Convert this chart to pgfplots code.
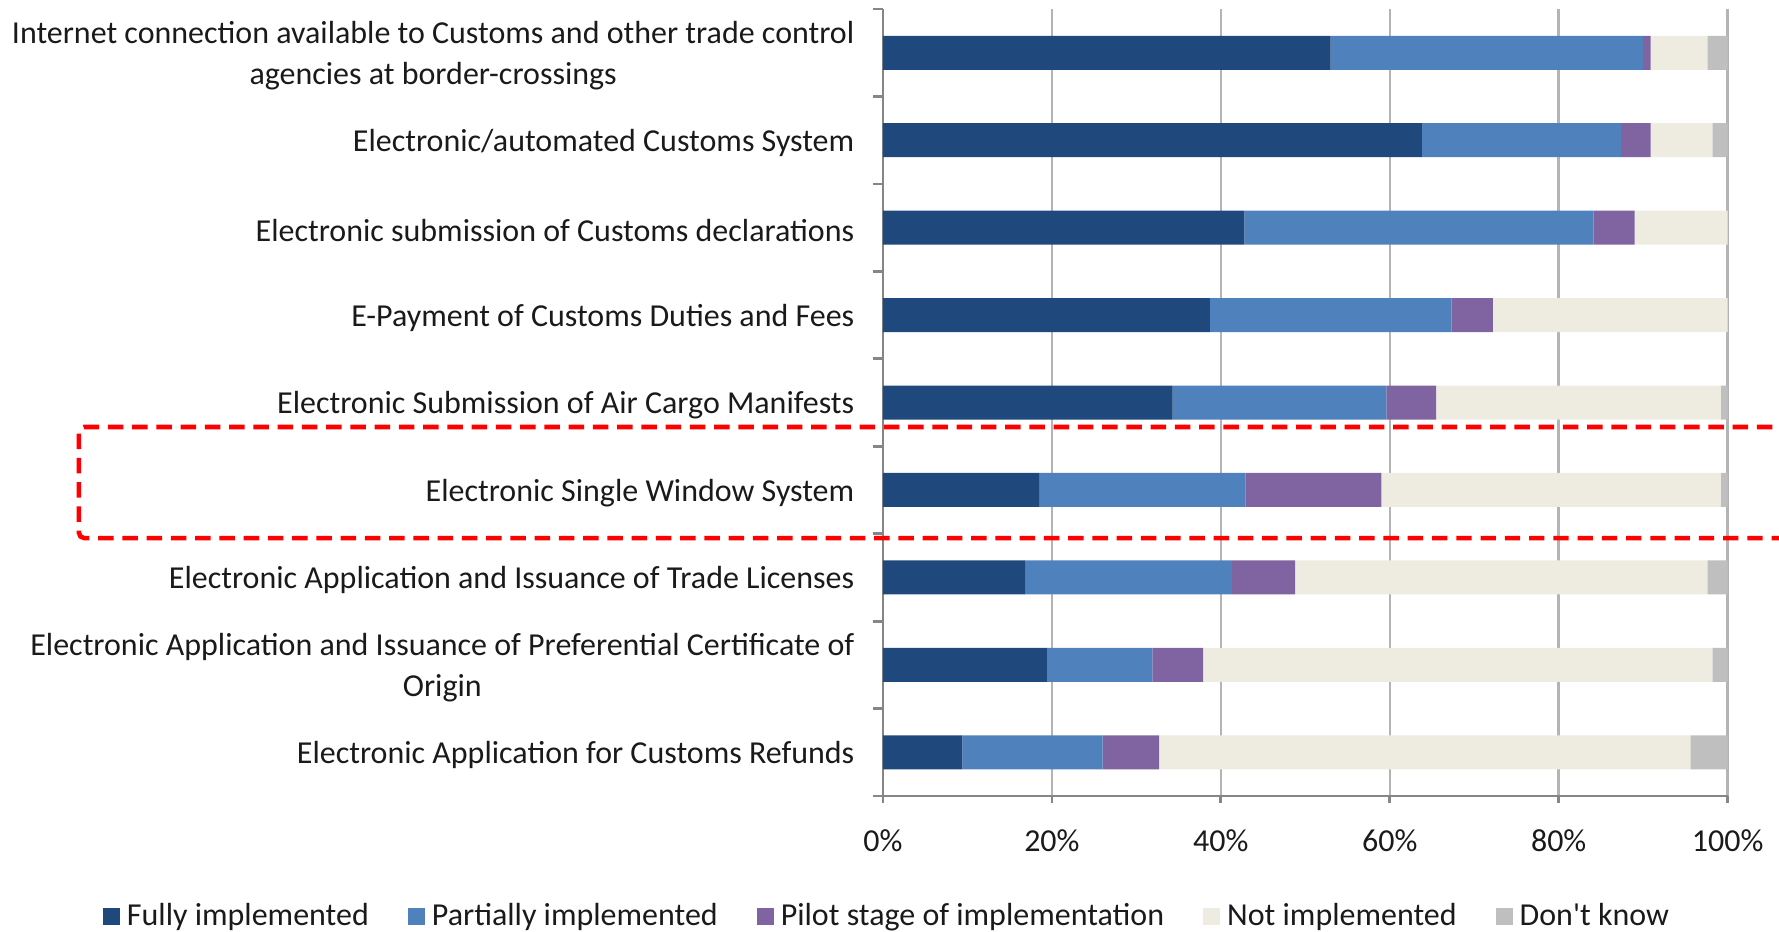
\documentclass[border=0pt]{standalone}
\usepackage{fontspec}
\setmainfont{Carlito}
\usepackage{pgfplots}
\pgfplotsset{compat=1.18}
\definecolor{cfull}{HTML}{1F497D}
\definecolor{cpart}{HTML}{4F81BD}
\definecolor{cpilot}{HTML}{8064A2}
\definecolor{cnot}{HTML}{EEECE1}
\definecolor{cdk}{HTML}{BFBFBF}
\definecolor{gridgray}{HTML}{B4B4B4}
\definecolor{axgray}{HTML}{868686}
\definecolor{txt}{HTML}{1A1A1A}
\begin{document}
\fontsize{9.1}{11.8}\selectfont
\begin{tikzpicture}
\useasboundingbox (-8.83,-1.35) rectangle (8.96,7.96);
\begin{axis}[
  at={(0,0)}, anchor=south west,
  width=8.446cm, height=7.87cm, scale only axis,
  xbar stacked, bar width=0.34cm,
  xmin=0, xmax=100, ymin=-0.5, ymax=8.5,
  xtick={0,20,...,100},
  xticklabel={\pgfmathprintnumber{\tick}\%},
  /pgf/number format/assume math mode=true,
  xmajorgrids, grid style={draw=gridgray, line width=0.7pt},
  axis x line*=bottom, axis y line*=left,
  axis line style={draw=axgray, line width=0.8pt},
  ytick={0,...,8},
  yticklabels={
    Electronic Application for Customs Refunds,
    {Electronic Application and Issuance of Preferential Certificate of\\Origin},
    Electronic Application and Issuance of Trade Licenses,
    Electronic Single Window System,
    Electronic Submission of Air Cargo Manifests,
    E-Payment of Customs Duties and Fees,
    Electronic submission of Customs declarations,
    Electronic/automated Customs System,
    {Internet connection available to Customs and other trade control\\agencies at border-crossings}},
  minor ytick={-0.5,0.5,...,8.5},
  major y tick style={draw=none},
  minor tick length=0.1cm, major tick length=0.07cm,
  tick align=outside,
  tick style={draw=axgray, line width=0.8pt},
  yticklabel style={align=center, inner sep=0pt, anchor=east, xshift=-0.21cm, yshift=-0.03cm, text=txt, font=\fontsize{9.1}{11.8}\selectfont},
  xticklabel style={anchor=north, inner sep=0pt, yshift=-0.26cm, text=txt, font=\fontsize{9.1}{11.8}\selectfont},
  legend columns=5,
  legend style={at={(0.0077,-0.153)}, anchor=center, draw=none, fill=none,
    text=txt, font=\fontsize{9.1}{11.8}\selectfont,
    /tikz/every even column/.append style={column sep=0.32cm}},
  legend image code/.code={\fill[#1] (0cm,-0.085cm) rectangle (0.17cm,0.085cm);},
  clip=false,
]
\addplot[fill=cfull, draw=none] coordinates {(9.4,0) (19.4,1) (16.9,2) (18.5,3) (34.3,4) (38.7,5) (42.8,6) (63.8,7) (53.0,8)};
\addplot[fill=cpart, draw=none] coordinates {(16.6,0) (12.5,1) (24.4,2) (24.4,3) (25.3,4) (28.6,5) (41.3,6) (23.6,7) (37.0,8)};
\addplot[fill=cpilot, draw=none] coordinates {(6.7,0) (6.0,1) (7.5,2) (16.1,3) (5.9,4) (4.9,5) (4.9,6) (3.5,7) (0.9,8)};
\addplot[fill=cnot, draw=none] coordinates {(62.9,0) (60.3,1) (48.8,2) (40.2,3) (33.7,4) (27.8,5) (11.0,6) (7.3,7) (6.7,8)};
\addplot[fill=cdk, draw=none] coordinates {(4.4,0) (1.8,1) (2.4,2) (0.8,3) (0.8,4) (0,5) (0,6) (1.8,7) (2.4,8)};
\legend{Fully implemented, Partially implemented, Pilot stage of implementation, Not implemented, Don\textquotesingle t know}
\draw[red, line width=1.3pt, dash pattern=on 4.4pt off 2.5pt, rounded corners=1.5pt]
  (axis cs:130,2.45) -- (axis cs:-95.2,2.45) -- (axis cs:-95.2,3.72) -- (axis cs:130,3.72);
\end{axis}
\end{tikzpicture}
\end{document}
